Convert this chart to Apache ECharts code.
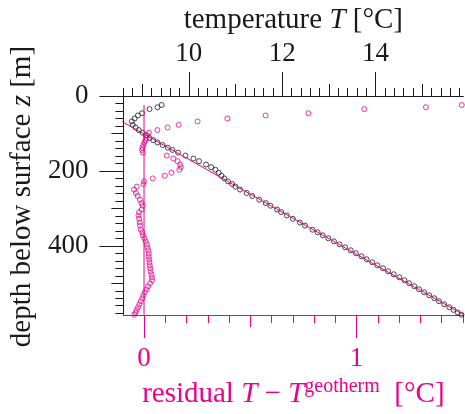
<!DOCTYPE html>
<html>
<head>
<meta charset="utf-8">
<script src="https://cdn.jsdelivr.net/npm/echarts@6/dist/echarts.min.js"></script>
<style>
  html, body { margin: 0; padding: 0; background: #ffffff; }
  #chart { width: 465px; height: 414px; }
</style>
</head>
<body>
<div id="chart"></div>
<script>
// Borehole log: depth below surface [m]
const depth = [24, 30, 35, 46, 52, 60, 68, 77, 84, 91,
  98, 105, 112, 118, 124, 131, 138, 144, 151, 159,
  167, 174, 183, 190, 197, 205, 213, 220, 228, 235,
  242, 250, 259, 267, 277, 286, 293, 303, 310, 319,
  328, 338, 346, 357, 364, 372, 380, 388, 396, 404,
  412, 420, 428, 436, 444, 452, 460, 468, 476, 484,
  492, 500, 508, 516, 524, 532, 540, 548, 556, 564,
  571, 578, 584];

// Measured temperature T [°C] at each depth
const temperature = [9.42, 9.33, 9.16, 9.00, 8.91, 8.84, 8.78, 8.80, 8.86, 8.93,
  9.01, 9.08, 9.16, 9.24, 9.33, 9.44, 9.55, 9.65, 9.77, 9.93,
  10.10, 10.22, 10.37, 10.48, 10.57, 10.64, 10.70, 10.76, 10.84, 10.93,
  11.00, 11.10, 11.24, 11.36, 11.51, 11.65, 11.75, 11.89, 11.98, 12.10,
  12.23, 12.38, 12.49, 12.65, 12.76, 12.87, 12.99, 13.11, 13.23, 13.35,
  13.47, 13.58, 13.70, 13.81, 13.93, 14.04, 14.16, 14.27, 14.39, 14.51,
  14.62, 14.72, 14.83, 14.93, 15.04, 15.15, 15.26, 15.36, 15.47, 15.58,
  15.67, 15.76, 15.84];

// Residual T - T_geotherm [°C] at each depth
const residual = [1.495, 1.326, 1.036, 0.773, 0.572, 0.392, 0.252, 0.163, 0.111, 0.063,
  0.023, 0.016, 0.012, 0.007, 0.002, -0.003, -0.007, -0.009, -0.005, 0.107,
  0.138, 0.158, 0.170, 0.173, 0.166, 0.129, 0.098, 0.041, 0.000, -0.003,
  -0.034, -0.047, -0.038, -0.030, -0.019, -0.012, -0.006, -0.011, -0.023, -0.026,
  -0.023, -0.020, -0.019, -0.015, -0.008, -0.005, 0.002, 0.007, 0.013, 0.016,
  0.020, 0.023, 0.022, 0.024, 0.026, 0.027, 0.029, 0.031, 0.035, 0.037,
  0.038, 0.028, 0.019, 0.012, 0.004, -0.003, -0.008, -0.015, -0.022, -0.028,
  -0.034, -0.040, -0.046];

// Linear geotherm, end points (depth [m], temperature [°C])
const geothermDepth = [0, 585];
const geothermTemp = [7.60, 15.90];

// Axis extents
const tempRange = [8.6, 15.88];
const residualRange = [-0.097, 1.502];
const depthRange = [0, 585];

// Tick positions
const tempMajorTicks = [10, 12, 14];
const tempMidTicks = [9, 11, 13, 15];
const tempMinorStep = 0.2;
const residualMajorTicks = [0, 1];
const residualMidTicks = [0.5];
const residualMinorStep = 0.1;
const depthMajorTicks = [0, 200, 400];
const depthMidTicks = [100, 300, 500];
const depthMinorStep = 20;

const INK = '#1a1a1a';
const PINK = '#EC008C';
const FONT = 'Liberation Serif';
const FS = 27;   // tick labels
const NFS = 29;  // axis titles

function stepTicks(range, step) {
  const out = [];
  const first = Math.ceil(range[0] / step - 1e-9);
  for (let k = first; k * step < range[1] - 0.01 * step; k++) {
    out.push(+(k * step).toFixed(6));
  }
  return out;
}

function richStyles(color) {
  return {
    r: { fontFamily: FONT, fontSize: NFS, color: color, verticalAlign: 'bottom' },
    r0: { fontFamily: FONT, fontSize: NFS, color: color, verticalAlign: 'bottom', padding: [0, 0, 0, 18] },
    i: { fontFamily: FONT, fontSize: NFS, fontStyle: 'italic', color: color, verticalAlign: 'bottom' },
    s: { fontFamily: FONT, fontSize: 20, color: color, verticalAlign: 'bottom', padding: [0, 0, 12, 0] }
  };
}

// One axis layer: same extent, one tick level
function layer(base, ticks, len, color, withLine, labels) {
  return Object.assign({
    type: 'value',
    splitLine: { show: false },
    axisLine: { show: withLine, onZero: false, lineStyle: { color: color, width: 1 } },
    axisTick: { show: true, inside: false, length: len, customValues: ticks,
      lineStyle: { color: color, width: 1 } },
    axisLabel: labels ? Object.assign({ show: true, customValues: ticks, color: color,
      fontFamily: FONT, fontSize: FS }, labels) : { show: false }
  }, base);
}

const tempBase = { position: 'top', min: tempRange[0], max: tempRange[1] };
const resBase = { position: 'bottom', min: residualRange[0], max: residualRange[1] };
const depthBase = { position: 'left', min: depthRange[0], max: depthRange[1], inverse: true };

const xAxes = [
  layer(Object.assign({
    name: '{r|temperature }{i|T}{r| [°C]}', nameLocation: 'middle', nameGap: 60,
    nameTextStyle: { rich: richStyles(INK) }
  }, tempBase), tempMajorTicks, 24, INK, true, { margin: 29 }),
  layer(Object.assign({}, tempBase), tempMidTicks, 12, INK, false, null),
  layer(Object.assign({}, tempBase), stepTicks(tempRange, tempMinorStep), 8, INK, false, null),
  layer(Object.assign({
    name: '{r|residual }{i|T}{r| − }{i|T}{s|geotherm}{r|  [°C]}', nameLocation: 'middle', nameGap: 57,
    nameTextStyle: { rich: richStyles(PINK) }
  }, resBase), residualMajorTicks, 23, PINK, true, { margin: 30 }),
  layer(Object.assign({}, resBase), residualMidTicks, 12, PINK, false, null),
  layer(Object.assign({}, resBase), stepTicks(residualRange, residualMinorStep), 8, PINK, false, null)
];

const yAxes = [
  layer(Object.assign({
    name: '{r0|depth below surface }{i|z}{r| [m]}', nameLocation: 'middle', nameGap: 82,
    nameTextStyle: { rich: richStyles(INK) }
  }, depthBase), depthMajorTicks, 24, INK, true, { margin: 35 }),
  layer(Object.assign({}, depthBase), depthMidTicks, 12, INK, false, null),
  layer(Object.assign({}, depthBase), stepTicks(depthRange, depthMinorStep), 8, INK, false, null)
];

const chart = echarts.init(document.getElementById('chart'), null, { renderer: 'canvas' });
chart.setOption({
  animation: false,
  backgroundColor: '#ffffff',
  grid: { left: 122.7, right: 1.7, top: 96, bottom: 92, containLabel: false },
  xAxis: xAxes,
  yAxis: yAxes,
  series: [
    {
      name: 'geotherm', type: 'line', xAxisIndex: 0, yAxisIndex: 0,
      data: geothermTemp.map((t, i) => [t, geothermDepth[i]]),
      symbol: 'none', silent: true,
      lineStyle: { color: PINK, width: 1 }
    },
    {
      name: 'zero residual', type: 'line', xAxisIndex: 3, yAxisIndex: 0,
      data: [[0, depth[0]], [0, depth[depth.length - 1]]],
      symbol: 'none', silent: true,
      lineStyle: { color: PINK, width: 1 }
    },
    {
      name: 'temperature', type: 'scatter', xAxisIndex: 0, yAxisIndex: 0,
      data: temperature.map((t, i) => [t, depth[i]]),
      symbol: 'circle', symbolSize: 5,
      itemStyle: { color: 'rgba(0,0,0,0)', borderColor: INK, borderWidth: 1 }
    },
    {
      name: 'residual', type: 'scatter', xAxisIndex: 3, yAxisIndex: 0,
      data: residual.map((r, i) => [r, depth[i]]),
      symbol: 'circle', symbolSize: 5,
      itemStyle: { color: 'rgba(0,0,0,0)', borderColor: PINK, borderWidth: 1 }
    }
  ]
});
</script>
</body>
</html>
